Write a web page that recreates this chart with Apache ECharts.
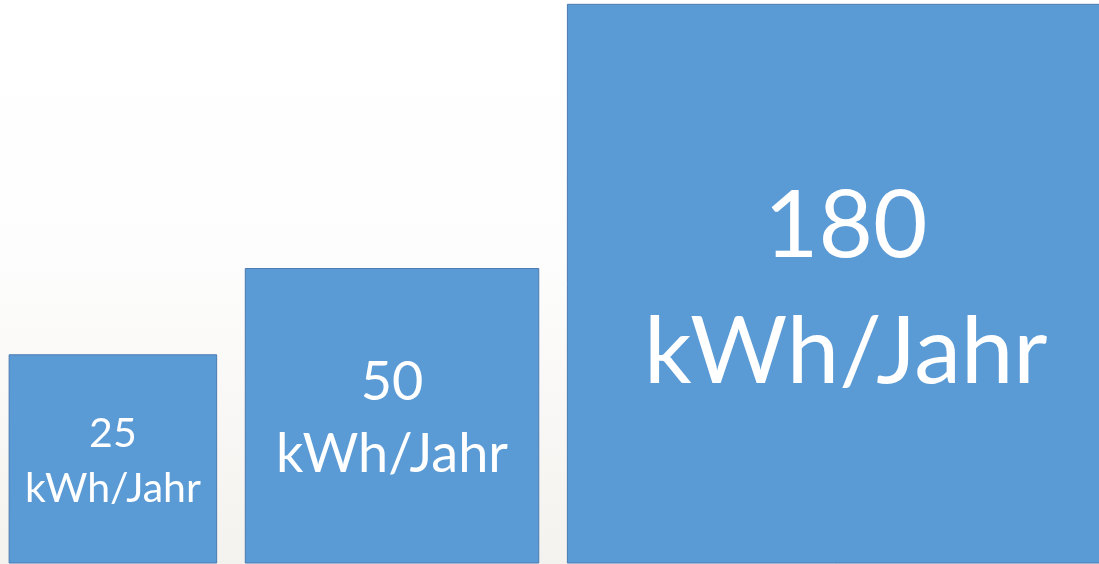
<!DOCTYPE html>
<html>
<head>
<meta charset="utf-8">
<style>
  html, body { margin: 0; padding: 0; }
  #chart { width: 1099px; height: 564px; }
</style>
<script src="https://cdn.jsdelivr.net/npm/echarts@6/dist/echarts.min.js"></script>
</head>
<body>
<div id="chart"></div>
<script>
// Annual consumption per device, shown as squares whose area is proportional to the value
const values = [25, 50, 180];
const unit = 'kWh/Jahr';

// Layout in axis units (side of a square = sqrt(value))
const LEFT_PAD = 0.22;
const GAP = 0.69;

const sides = values.map(v => Math.sqrt(v));
const starts = [];
let cursor = LEFT_PAD;
sides.forEach((s, i) => { starts.push(cursor); cursor += s + GAP; });

const seriesData = values.map((v, i) => [starts[i], sides[i], v]);

const chart = echarts.init(document.getElementById('chart'), null, { renderer: 'canvas' });

chart.setOption({
  animation: false,
  backgroundColor: {
    type: 'linear', x: 0, y: 0, x2: 0, y2: 1,
    colorStops: [
      { offset: 0, color: '#ffffff' },
      { offset: 0.45, color: '#fdfdfd' },
      { offset: 1, color: '#f4f2ee' }
    ]
  },
  grid: { left: 0, right: 0, top: 0, bottom: 1 },
  xAxis: { type: 'value', min: 0, max: 26.48, show: false },
  yAxis: { type: 'value', min: 0, max: 13.52, show: false },
  series: [{
    type: 'custom',
    clip: false,
    data: seriesData,
    renderItem: function (params, api) {
      const x0 = api.value(0);
      const side = api.value(1);
      const val = api.value(2);
      const tl = api.coord([x0, side]);
      const br = api.coord([x0 + side, 0]);
      const w = br[0] - tl[0];
      const h = br[1] - tl[1];
      const fs = Math.round(0.15 * w + 10.3);
      return {
        type: 'group',
        children: [
          {
            type: 'rect',
            shape: { x: tl[0], y: tl[1], width: w, height: h },
            style: { fill: '#5b9bd5', stroke: '#4a7ab0', lineWidth: 1 }
          },
          {
            type: 'text',
            x: tl[0] + w / 2,
            y: tl[1] + h / 2 + fs * 0.06,
            style: {
              text: val + '\n' + unit,
              fill: '#ffffff',
              fontFamily: 'Lato',
              fontSize: fs,
              lineHeight: Math.round(fs * 1.34),
              align: 'center',
              verticalAlign: 'middle'
            }
          }
        ]
      };
    }
  }]
});
</script>
</body>
</html>
